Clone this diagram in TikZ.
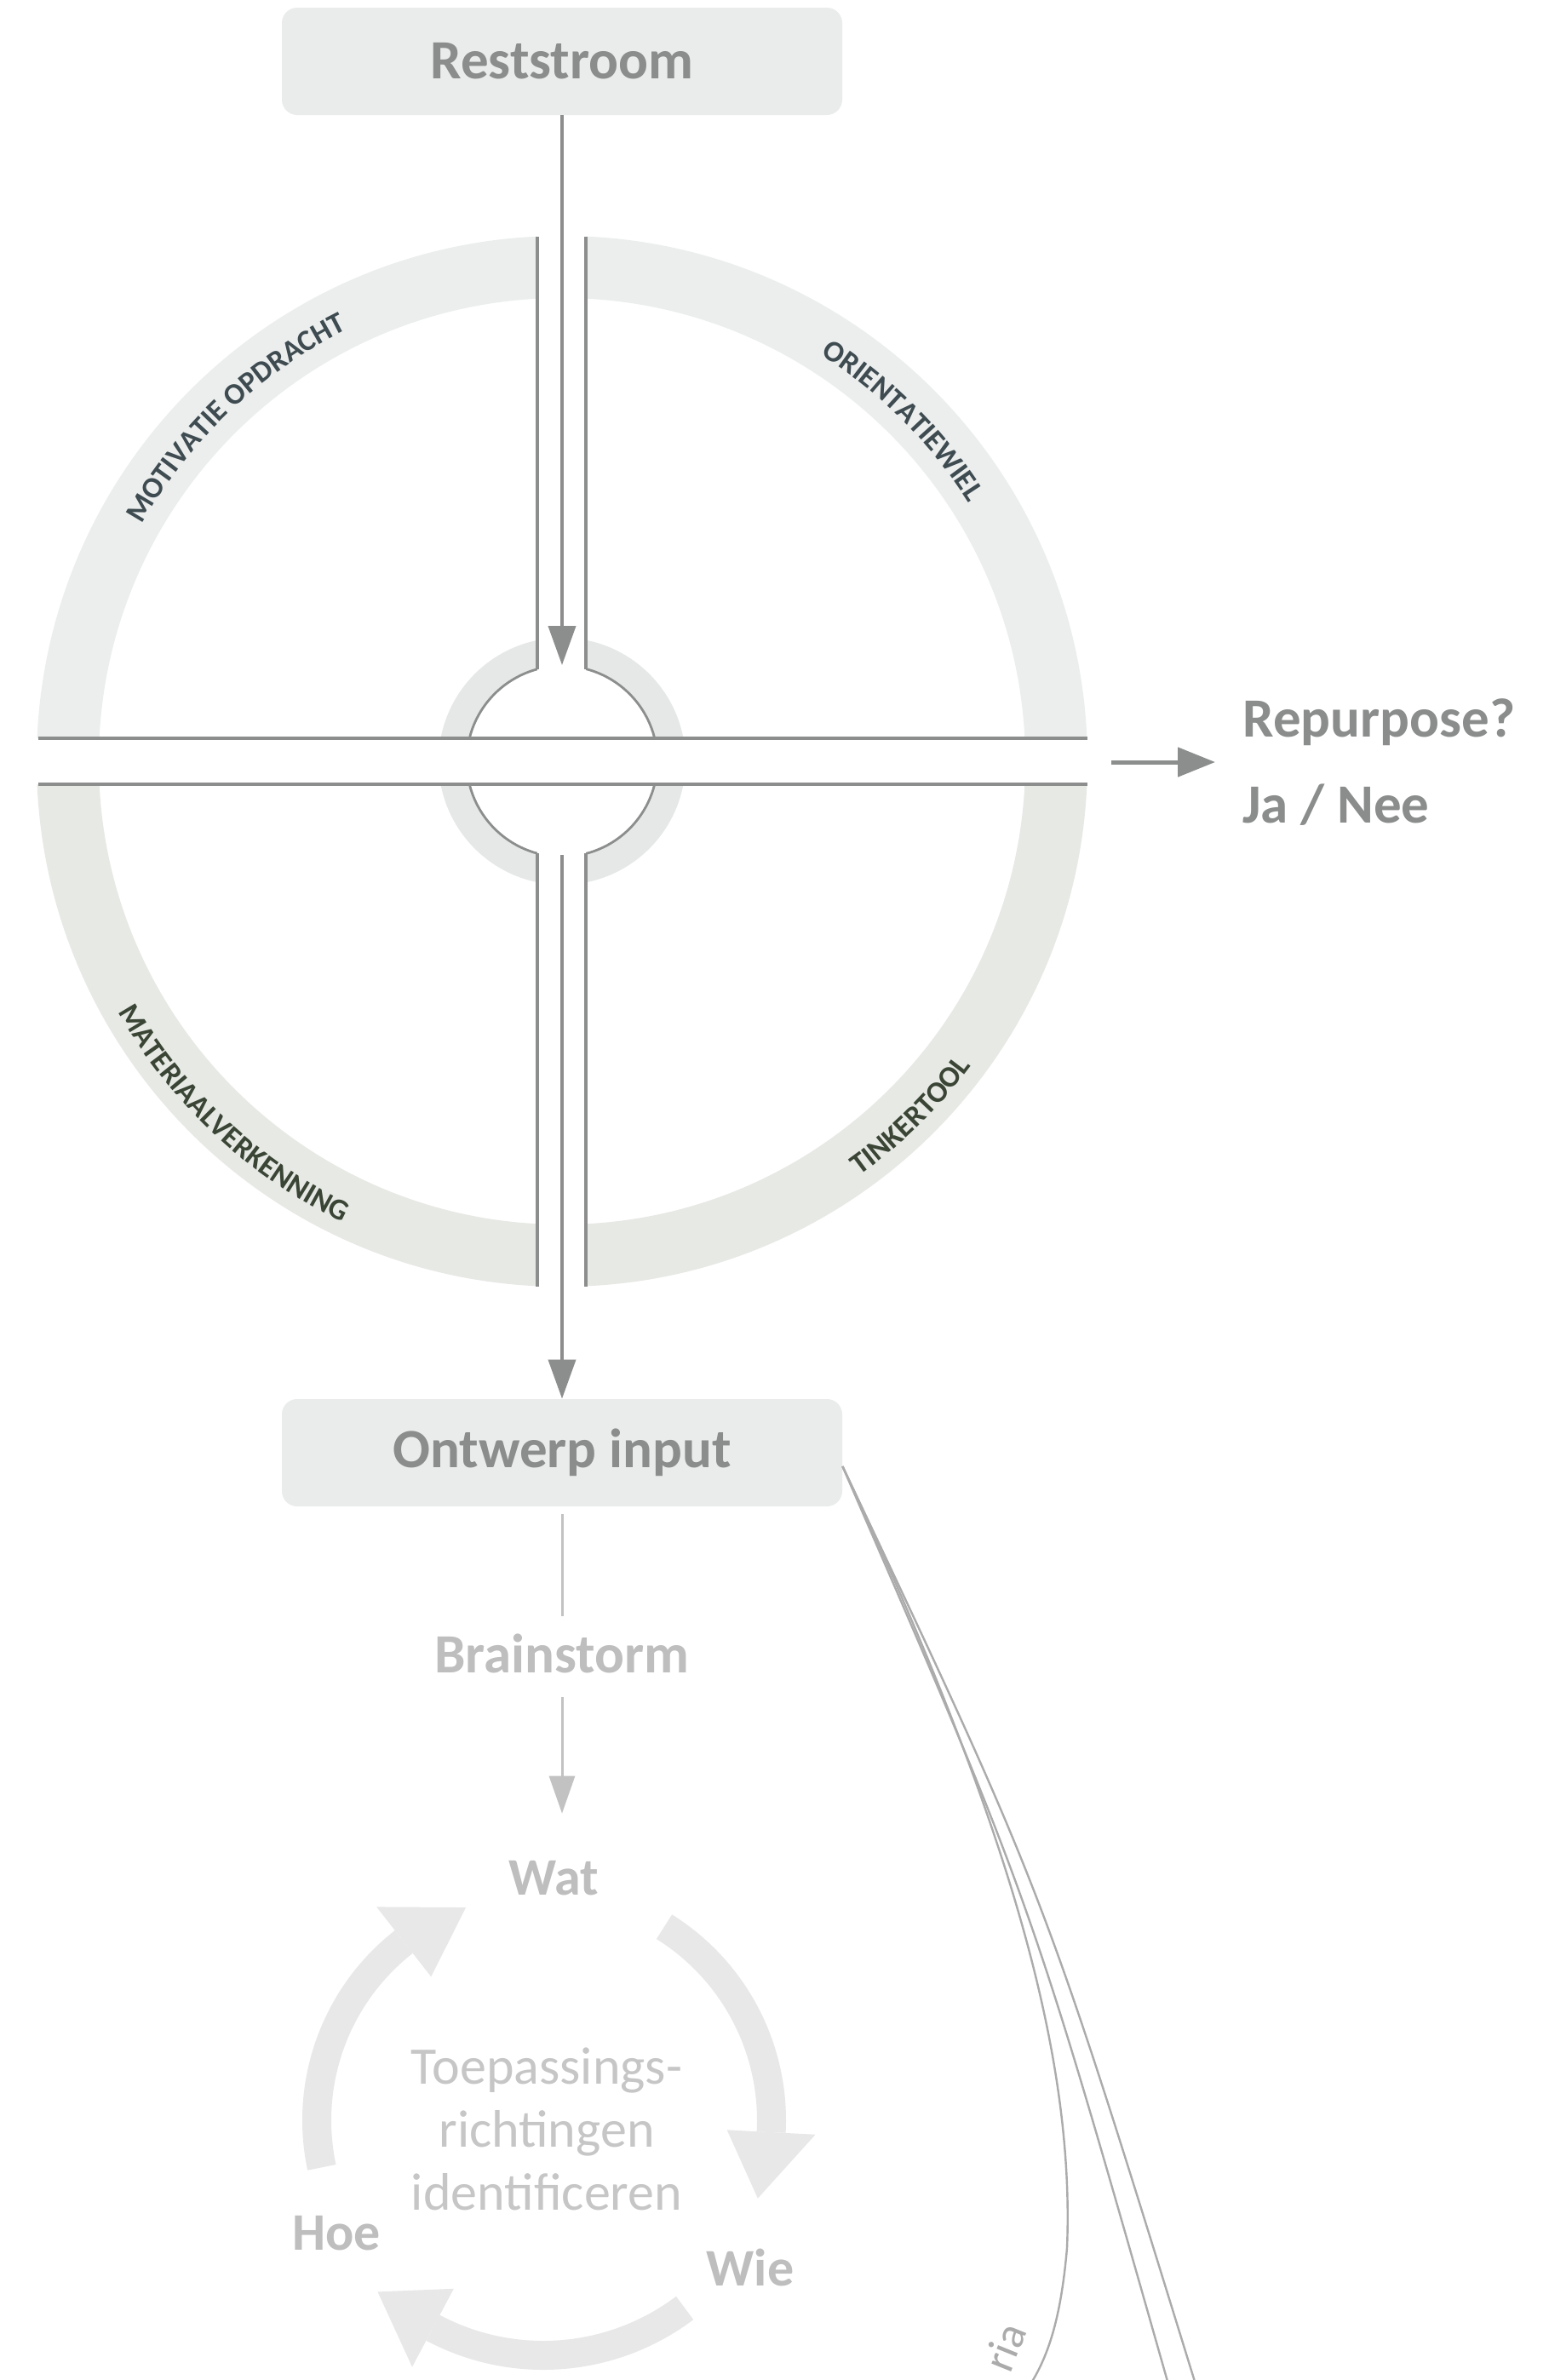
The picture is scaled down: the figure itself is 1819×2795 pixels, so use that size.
\documentclass[tikz,border=0pt]{standalone}
\usepackage{fontspec}
\setmainfont{Carlito}
\usetikzlibrary{arrows.meta,decorations.text,calc}

\definecolor{boxfill}{HTML}{EAEBEB}
\definecolor{boxtext}{HTML}{8A8D8C}
\definecolor{ringtop}{HTML}{ECEEEE}
\definecolor{ringbot}{HTML}{E7E9E5}
\definecolor{smallring}{HTML}{E6E8E7}
\definecolor{darkline}{HTML}{8C8D8D}
\definecolor{ringtxtA}{HTML}{3E4B50}
\definecolor{ringtxtB}{HTML}{3A4535}
\definecolor{paletext}{HTML}{BEBEBE}
\definecolor{paletextB}{HTML}{C6C6C6}
\definecolor{paleline}{HTML}{C2C2C2}
\definecolor{cyclefill}{HTML}{E8E8E8}
\definecolor{curveline}{HTML}{ABABAB}

\begin{document}
\begin{tikzpicture}[x=0.5pt,y=-0.5pt,
  bigbox/.style={fill=boxfill, rounded corners=9pt, minimum width=329pt, minimum height=63pt, inner sep=0pt, text=boxtext, font=\bfseries\fontsize{32.5}{39}\selectfont},
  palelbl/.style={text=paletext, font=\bfseries\fontsize{32.5}{39}\selectfont, inner sep=0pt, text height=21pt, text depth=0pt},
  cyclbl/.style={text=paletext, font=\bfseries\fontsize{31}{36}\selectfont, inner sep=0pt, text height=20pt, text depth=0pt},
  darkarrow/.style={draw=darkline, line width=2pt, -{Triangle[length=23pt,width=16pt]}},
  darkrule/.style={draw=darkline, line width=2pt},
  thinrule/.style={draw=darkline, line width=1.6pt},
  palearrow/.style={draw=paleline, line width=1.5pt, -{Triangle[length=22pt,width=15pt]}},
  paleconn/.style={draw=paleline, line width=1.5pt},
  curveconn/.style={draw=curveline, line width=1.2pt},
  cycband/.style={draw=cyclefill, line width=17pt},
  cychead/.style={fill=cyclefill},
  ringtextA/.style={decorate, decoration={text along path, text align=center, text color=ringtxtA, text={|\bfseries\fontsize{17.5}{18}\selectfont|#1}}},
  ringtextB/.style={decorate, decoration={text along path, text align=center, text color=ringtxtB, text={|\bfseries\fontsize{17.5}{18}\selectfont|#1}}},
]
\fill[white] (0,0) rectangle (1819,2795);
\useasboundingbox (0,0) rectangle (1819,2795);
\clip (0,0) rectangle (1819,2795);

% ---------- wheel ----------
\coordinate (O) at (660,894);
\begin{scope}
  \clip (0,0) rectangle (1819,894);
  \fill[ringtop, even odd rule] (O) circle[radius=617] (O) circle[radius=544];
\end{scope}
\begin{scope}
  \clip (0,894) rectangle (1819,2795);
  \fill[ringbot, even odd rule] (O) circle[radius=617] (O) circle[radius=544];
\end{scope}
\fill[smallring] (O) circle[radius=145];
\filldraw[fill=white, draw=darkline, line width=1.4pt] (O) circle[radius=112];
% white band and channel
\fill[white] (30,867) rectangle (1300,921);
\fill[white] (631,260) rectangle (688,1540);
% rules
\draw[darkrule] (45,867) -- (1277,867);
\draw[darkrule] (45,921) -- (1277,921);
\draw[thinrule] (631,278) -- (631,786);
\draw[thinrule] (688,278) -- (688,786);
\draw[thinrule] (631,1002) -- (631,1511);
\draw[thinrule] (688,1002) -- (688,1511);

% ring labels
\path[ringtextA={MOTIVATIE OPDRACHT}] ($(O)+(-160:566)$) arc[start angle=-160, end angle=-107, radius=566];
\path[ringtextA={ORIENTATIEWIEL}] ($(O)+(-72:566)$) arc[start angle=-72, end angle=-18, radius=566];
\path[ringtextB={MATERIAALVERKENNING}] ($(O)+(165:599)$) arc[start angle=165, end angle=101, radius=599];
\path[ringtextB={TINKERTOOL}] ($(O)+(72:599)$) arc[start angle=72, end angle=19, radius=599];

% ---------- nodes ----------
\node[bigbox] (rest) at (660,72) {Reststroom};
\node[bigbox] (ontw) at (660,1706) {Ontwerp input};
\coordinate (neckT) at (660,781);
\coordinate (neckB) at (660,1004);
\draw[darkarrow] (rest.south) -- (neckT);
\draw[darkarrow] (neckB) -- (ontw.north);

\node[text=boxtext, font=\bfseries\fontsize{32.5}{50.5}\selectfont, inner sep=0pt, align=left, anchor=west] (rp) at (1459,895) {Repurpose?\\Ja / Nee};
\coordinate (rpS) at (1305,895);
\draw[darkarrow, line width=2.5pt, -{Triangle[length=22pt,width=17pt]}, shorten >=16pt] (rpS) -- (rp.west);

% ---------- lower part ----------
\node[palelbl] (brain) at (660,1943) {Brainstorm};
\draw[paleconn, shorten <=4.5pt, shorten >=12pt] (ontw.south) -- (brain.north);
\node[cyclbl] (wat) at (650,2205) {Wat};
\draw[palearrow, shorten <=14.5pt, shorten >=27.5pt] (brain.south) -- (brain.south |- wat.north);
\node[cyclbl] (hoe) at (395,2622) {Hoe};
\node[cyclbl] (wie) at (881,2664) {Wie};
\node[text=paletextB, font=\fontsize{31}{37}\selectfont, inner sep=0pt, align=center] (toep) at (642,2500) {Toepassings-\\richtingen\\identificeren};

% cycle arrows
\coordinate (C) at (638,2490);
\draw[cycband] ($(C)+(-58:268)$) arc[start angle=-58, end angle=3, radius=268];
\fill[cychead] ($(C)+(3:216)$) -- ($(C)+(3:320)$) -- ($(C)+(20:268)$) -- cycle;
\draw[cycband] ($(C)+(53:276)$) arc[start angle=53, end angle=118, radius=276];
\fill[cychead] ($(C)+(118:224)$) -- ($(C)+(118:328)$) -- ($(C)+(134:280)$) -- cycle;
\draw[cycband] ($(C)+(168:266)$) arc[start angle=168, end angle=232, radius=266];
\fill[cychead] ($(C)+(232:214)$) -- ($(C)+(232:318)$) -- ($(C)+(250:266)$) -- cycle;

% curves from Ontwerp input
\coordinate (endA) at (1210,2800);
\coordinate (endB) at (1372,2800);
\coordinate (endC) at (1404,2800);
\draw[curveconn] ([yshift=-8pt]ontw.east) .. controls (1190,2150) and (1262,2420) .. (1253,2640) .. controls (1246,2720) and (1232,2765) .. (endA);
\draw[curveconn] ([yshift=-8pt]ontw.east) .. controls (1210,2230) .. (endB);
\draw[curveconn] ([yshift=-8pt]ontw.east) .. controls (1225,2220) .. (endC);
\node[text=curveline, font=\fontsize{26}{30}\selectfont, inner sep=0pt, rotate=68] (ria) at (1180,2756) {ria};
\end{tikzpicture}
\end{document}
